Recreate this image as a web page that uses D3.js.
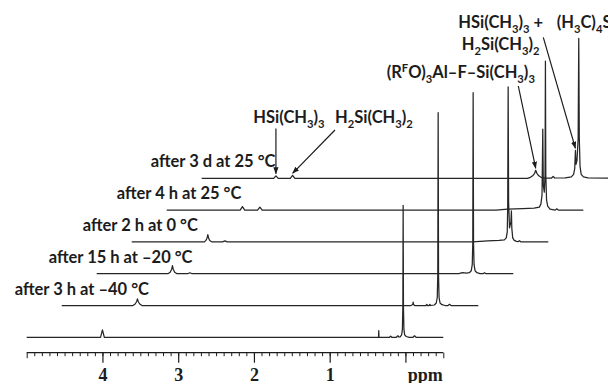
<!DOCTYPE html>
<html><head><meta charset="utf-8">
<script src="https://cdn.jsdelivr.net/npm/d3@7"></script>
<style>body{margin:0;background:#fff;overflow:hidden}</style>
</head><body><svg id="c" width="608" height="383"></svg>
<script>
// ---------------- DATA ----------------
// condition label for each stacked trace (bottom to top)
const conditions = ["", "after 3 h at \u201340 \u00B0C", "after 15 h at \u201320 \u00B0C",
  "after 2 h at 0 \u00B0C", "after 4 h at 25 \u00B0C", "after 3 d at 25 \u00B0C"];

// each spectrum: [chemical shift (ppm), intensity]
const spectrum0 = [[5.0,0],[4.025,0],[4.0,7.5],[3.975,0],[0.37,0],[0.355,0],[0.352,6.6],[0.349,0],
  [0.21,0],[0.195,1.2],[0.18,0],[0.12,0],[0.10,1.5],[0.085,0.3],
  [0.07,0.5],[0.05,2.5],[0.04,8],[0.034,30],[0.03,132],[0.026,30],[0.02,8],[0.01,2.5],[-0.01,0.8],[-0.05,0],
  [-0.10,0],[-0.12,1.5],[-0.14,0],[-0.5,0]];
const spectrum1 = [[5.0,0],[4.06,0],[4.03,1.5],[4.01,4],[4.0,6.7],[3.99,4],[3.97,1.5],[3.94,0],
  [0.39,0],[0.365,1],[0.36,3.3],[0.355,1],[0.34,0],
  [0.19,0],[0.18,1],[0.17,0],[0.15,0],[0.14,1],[0.13,0],
  [0.08,0.5],[0.055,2.5],[0.042,8],[0.035,30],[0.03,193],[0.025,30],[0.018,8],[0.005,2.5],[-0.02,0.8],[-0.06,0],
  [-0.10,0],[-0.12,1.2],[-0.14,0],[-0.5,0]];
const spectrum2 = [[5.0,0],[4.06,0],[4.03,1.5],[4.01,4.5],[4.0,8],[3.99,4.5],[3.97,1.5],[3.94,0],
  [3.80,0],[3.77,1],[3.74,0],
  [0.22,0],[0.17,1],[0.12,0.6],
  [0.08,1],[0.055,3],[0.042,9],[0.035,30],[0.03,181],[0.025,30],[0.018,9],[0.005,3],[-0.02,1],[-0.06,0],
  [-0.10,0],[-0.12,1],[-0.14,0],[-0.5,0]];
const spectrum3 = [[5.0,0],[4.04,0],[4.02,1.5],[4.005,4],[3.995,7.3],[3.985,4],[3.97,1.5],[3.94,0],
  [3.80,0],[3.77,1],[3.74,0],
  [0.5,0],[0.3,1],[0.15,1.5],[0.08,2],
  [0.055,4],[0.042,10],[0.036,35],[0.03,155],[0.024,40],[0.012,14],[-0.006,20],[-0.013,31],[-0.018,14],[-0.03,4],[-0.05,1.5],[-0.08,0.5],
  [-0.10,0.3],[-0.12,1.2],[-0.14,0],[-0.5,0]];
const spectrum4 = [[5.0,0],[4.03,0],[4.0,3.5],[3.97,0],[3.8,0],[3.77,3],[3.74,0],
  [0.65,0],[0.5,1],[0.3,1.5],[0.15,2],[0.08,3],
  [0.06,6],[0.045,15],[0.035,81],[0.028,25],[0.015,18],[0.005,35],[0.0,149],[-0.005,35],[-0.015,10],[-0.03,4],[-0.06,1],
  [-0.13,0],[-0.15,1.3],[-0.17,0],[-0.5,0]];
const spectrum5 = [[5.0,0],[4.05,0],[4.02,2.5],[3.99,0],[3.83,0],[3.80,3],[3.77,0],
  [0.7,0],[0.66,1],[0.63,2.5],[0.605,5],[0.59,8],[0.575,5],[0.55,2.5],[0.52,1],[0.48,0.3],
  [0.38,0.3],[0.36,2],[0.34,0.3],
  [0.2,0.5],[0.12,1.5],[0.09,4],[0.075,10],[0.066,28],[0.058,14],[0.045,18],[0.03,40],[0.022,140],[0.015,40],[0.005,12],[-0.01,4],[-0.04,1.5],[-0.1,0.5],[-0.5,0]];
const spectra = [spectrum0, spectrum1, spectrum2, spectrum3, spectrum4, spectrum5];

const shiftDomain = [5.0, -0.5];
const majorTicks = [4, 3, 2, 1, 0];
const tickLabels = ["4", "3", "2", "1", ""];
const axisUnit = "ppm";

// annotations: label lines, target trace, target shift (ppm), target intensity
const annoLabels = [["HSi(CH_3)_3"], ["H_2Si(CH_3)_2"], ["(R^FO)_3Al\u2013F\u2013Si(CH_3)_3"],
  ["HSi(CH_3)_3 +", "H_2Si(CH_3)_2"], ["(H_3C)_4Si"]];
const annoTargetShift = [4.02, 3.80, 0.59, 0.066, null];
const annoTargetInt = [2.5, 3, 8, 28, null];

// ---------------- LAYOUT ----------------
const svg = d3.select("#c");
const X0 = 26.7, X1 = 443.3, BASE0 = 337.3, STEP_Y = 31.8, STEP_X = 35, AXIS_Y = 352.7;
const labelFont = "Lato, 'Open Sans', sans-serif";
const ink = "#1c1c1c";

const x = d3.scaleLinear().domain(shiftDomain).range([X0, X1]);
const xs = i => d3.scaleLinear().domain(shiftDomain).range([X0 + i * STEP_X, X1 + i * STEP_X]);
const ys = i => d3.scaleLinear().domain([0, 100]).range([BASE0 - i * STEP_Y, BASE0 - i * STEP_Y - 100]);

// arrow marker
svg.append("defs").append("marker").attr("id", "ah")
  .attr("viewBox", "0 0 8 6").attr("refX", 7.5).attr("refY", 3)
  .attr("markerWidth", 7).attr("markerHeight", 5.5).attr("markerUnits", "userSpaceOnUse")
  .attr("orient", "auto")
  .append("path").attr("d", "M0,0L8,3L0,6Z").attr("fill", ink);

// spectra
spectra.forEach((s, i) => {
  const line = d3.line().x(d => xs(i)(d[0])).y(d => ys(i)(d[1]));
  svg.append("path").attr("d", line(s)).attr("fill", "none")
    .attr("stroke", "#262626").attr("stroke-width", 1.25).attr("stroke-linejoin", "round");
});

// rich text helper: _x subscript, ^x superscript
function rich(sel, str, size) {
  let off = 0;
  const parts = [];
  for (let k = 0; k < str.length; k++) {
    const c = str[k];
    if ((c === "_" || c === "^") && k + 1 < str.length) {
      parts.push({t: str[k + 1], s: c === "_" ? 1 : -1}); k++;
    } else {
      if (parts.length && parts[parts.length - 1].s === 0) parts[parts.length - 1].t += c;
      else parts.push({t: c, s: 0});
    }
  }
  parts.forEach(p => {
    const target = p.s === 1 ? size * 0.3 : p.s === -1 ? -size * 0.38 : 0;
    const ts = sel.append("tspan").text(p.t).attr("dy", target - off);
    if (p.s !== 0) ts.attr("font-size", size * 0.68);
    off = target;
  });
}

// condition labels
conditions.forEach((c, i) => {
  if (!c) return;
  svg.append("text").attr("x", X0 + i * STEP_X - 47 - (i - 1))
    .attr("y", BASE0 - i * STEP_Y - 11)
    .attr("font-family", labelFont).attr("font-weight", 700).attr("font-size", 16.5)
    .attr("fill", ink).text(c);
});

// annotations
const annoPos = [[253.3, 123.3], [335, 123.3], [386.7, 78.3], [458.3, 28.3], [556.7, 28.3]];
const annoLineGap = 21.7;
annoLabels.forEach((lines, a) => {
  lines.forEach((ln, j) => {
    const t = svg.append("text").attr("x", annoPos[a][0] + j * 3.4).attr("y", annoPos[a][1] + j * annoLineGap)
      .attr("font-family", labelFont).attr("font-weight", 700).attr("font-size", 16.5).attr("fill", ink);
    rich(t, ln, 16.5);
  });
});
const arrowStarts = [[null, 128.5], [335, 130], [518.3, 86], [543.3, 37.3]];
arrowStarts.forEach((st, a) => {
  const tx = xs(5)(annoTargetShift[a]);
  const ty = ys(5)(annoTargetInt[a]) - 2;
  svg.append("line").attr("x1", st[0] === null ? tx : st[0]).attr("y1", st[1])
    .attr("x2", tx).attr("y2", ty).attr("stroke", ink).attr("stroke-width", 1.2)
    .attr("marker-end", "url(#ah)");
});

// axis
const ax = svg.append("g").attr("transform", `translate(0,${AXIS_Y})`);
ax.append("line").attr("x1", X0).attr("x2", X1).attr("stroke", ink).attr("stroke-width", 1.2);
const minor = d3.range(-5, 51).map(d => d / 10);
const gMinor = ax.append("g").call(d3.axisBottom(x).tickValues(minor).tickSize(3.5).tickSizeOuter(0).tickFormat(""));
gMinor.select(".domain").remove();
gMinor.selectAll(".tick line").attr("stroke", ink).attr("stroke-width", 1)
  .attr("y2", d => (d === 5 || d === -0.5) ? 5.5 : 3.5);
const gMajor = ax.append("g").call(d3.axisBottom(x).tickValues(majorTicks).tickSize(10).tickSizeOuter(0)
  .tickFormat((d, k) => tickLabels[k]));
gMajor.select(".domain").remove();
gMajor.selectAll(".tick line").attr("stroke", ink).attr("stroke-width", 1.2);
gMajor.selectAll(".tick text").attr("y", 28.8).attr("dy", null)
  .attr("font-family", "'Liberation Serif', 'Times New Roman', serif").attr("font-weight", 700)
  .attr("font-size", 18).attr("fill", ink);
ax.append("text").attr("x", x(0) + 2.3).attr("y", 28.8)
  .attr("font-family", "'Liberation Serif', 'Times New Roman', serif").attr("font-weight", 700)
  .attr("font-size", 18).attr("fill", ink).text(axisUnit);
</script></body></html>
